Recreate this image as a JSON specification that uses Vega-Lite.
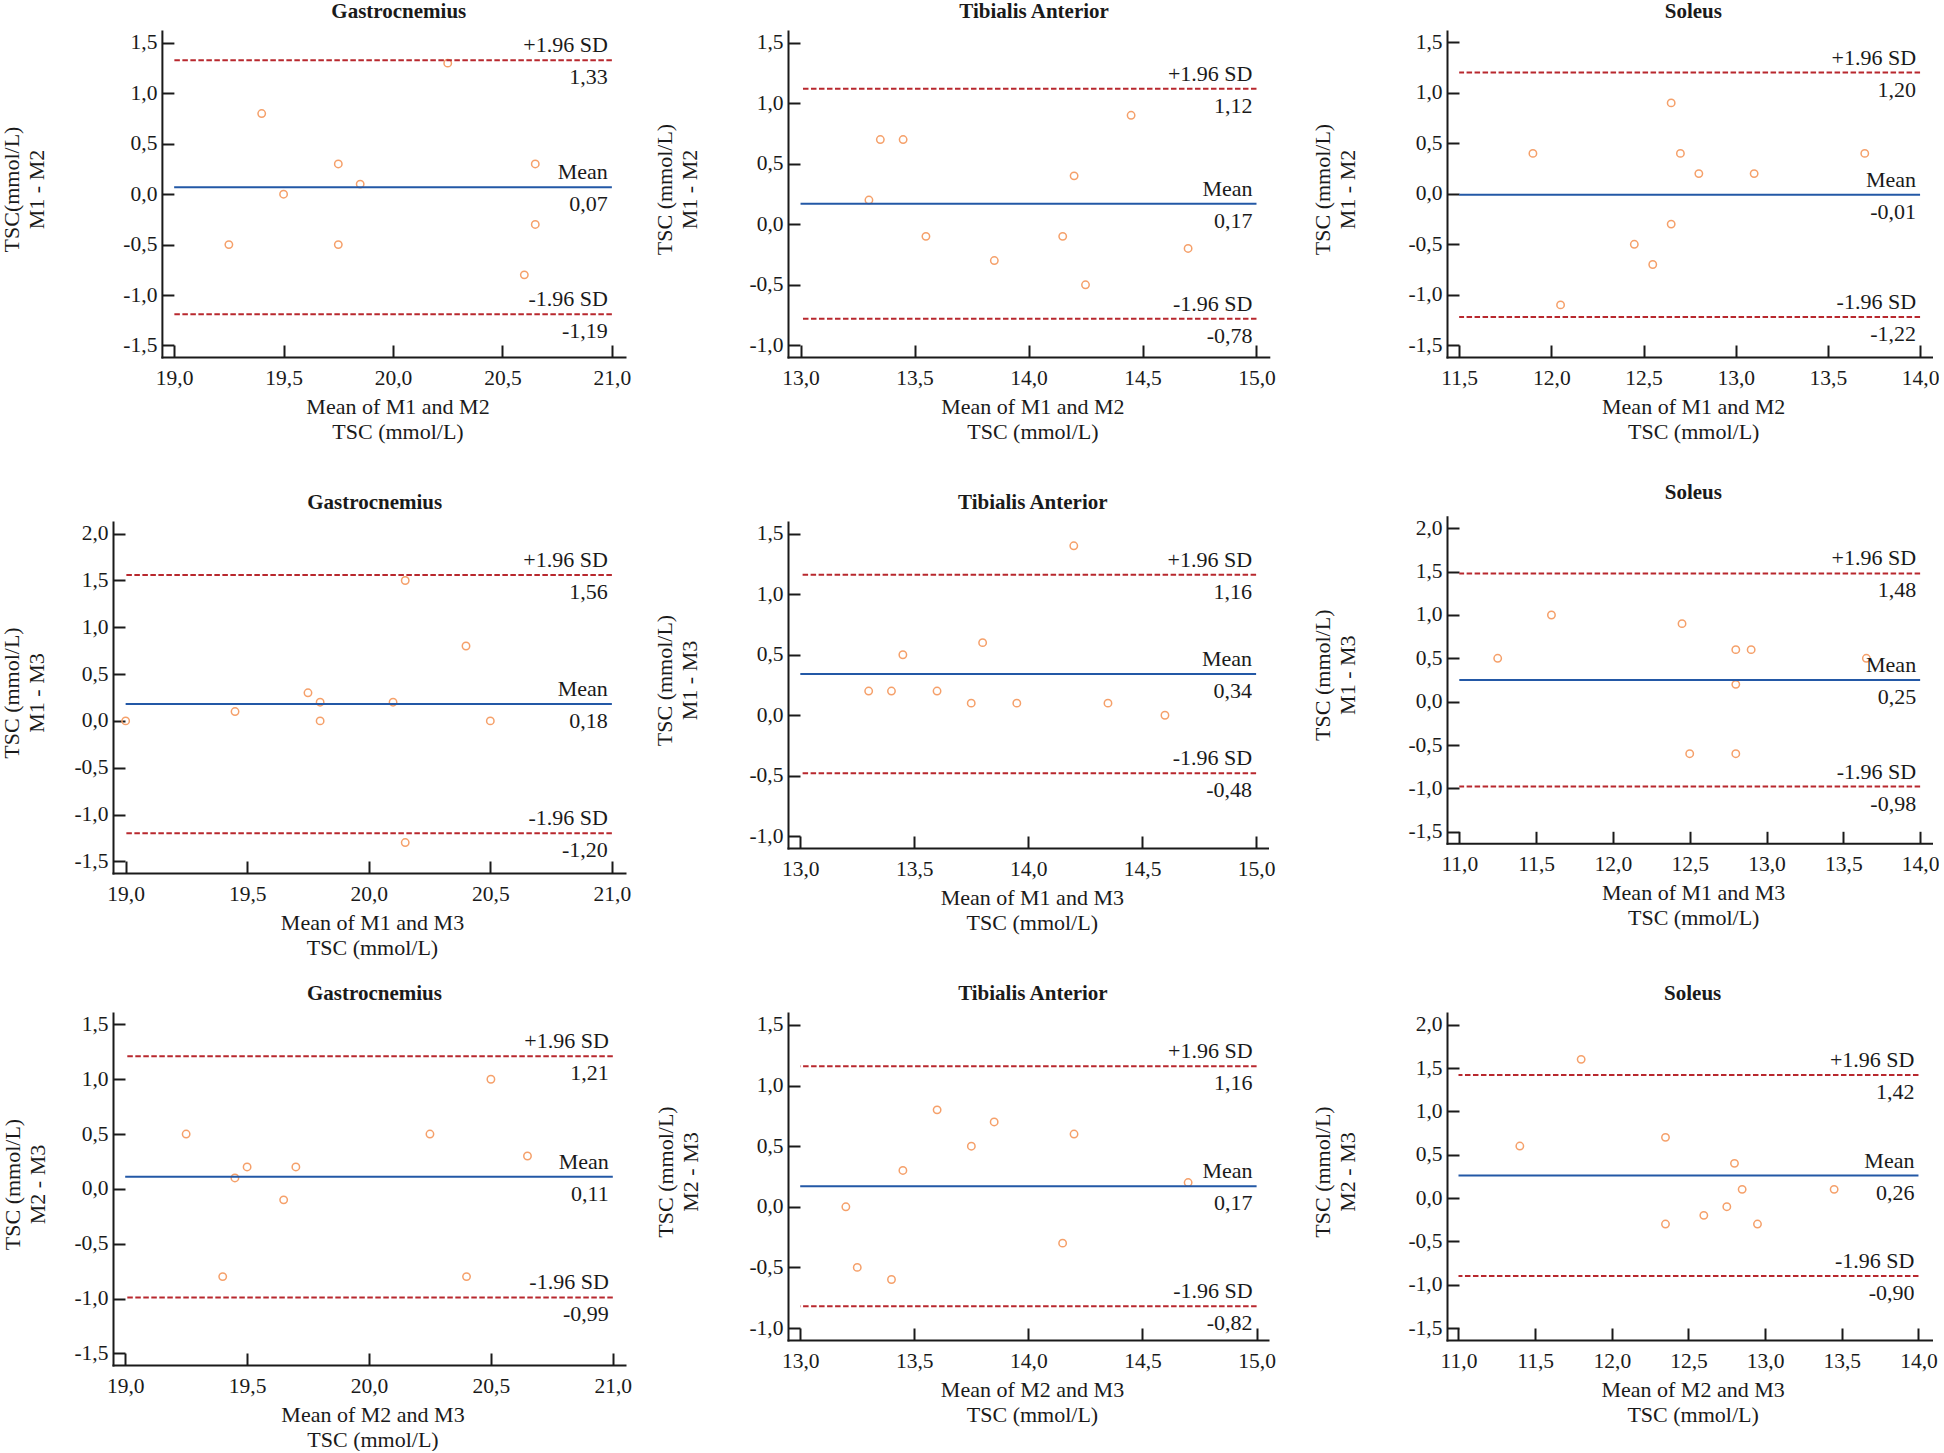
{
  "$schema": "https://vega.github.io/schema/vega-lite/v6.json",
  "padding": {"left": 0, "top": 1, "right": 0, "bottom": 0},
  "background": "white",
  "config": {
    "locale": {"number": {"decimal": ",", "thousands": ".", "grouping": [3], "currency": ["", ""], "minus": "-"}},
    "font": "Liberation Serif",
    "view": {"stroke": null},
    "axis": {"grid": false, "domainColor": "#1a1a1a", "domainWidth": 2, "domainCap": "square", "tickColor": "#1a1a1a", "tickWidth": 2, "tickSize": -12, "labelFont": "Liberation Serif", "labelFontSize": 21.5, "labelColor": "#1a1a1a", "titleFont": "Liberation Serif", "titleFontSize": 22, "titleFontWeight": "normal", "titleColor": "#1a1a1a", "titleLineHeight": 25, "labelFlush": false, "labelOverlap": false, "titleBaseline": "middle", "titleAlign": "center"},
    "axisX": {"labelPadding": 22, "titleAngle": 0},
    "axisY": {"labelPadding": 17, "titleAngle": -90},
    "title": {"font": "Liberation Serif", "fontSize": 21, "fontWeight": "bold", "color": "#1a1a1a", "frame": "group", "anchor": "middle", "baseline": "middle", "offset": 9},
    "text": {"font": "Liberation Serif", "fontSize": 22, "color": "#1a1a1a"}
  },
  "datasets": {
    "pts": [
      {"p": "P1", "mx": 19.25, "d": -0.5}, {"p": "P1", "mx": 19.4, "d": 0.8}, {"p": "P1", "mx": 19.5, "d": 0.0}, {"p": "P1", "mx": 19.75, "d": 0.3}, {"p": "P1", "mx": 19.75, "d": -0.5},
      {"p": "P1", "mx": 19.85, "d": 0.1}, {"p": "P1", "mx": 20.25, "d": 1.3}, {"p": "P1", "mx": 20.6, "d": -0.8}, {"p": "P1", "mx": 20.65, "d": 0.3}, {"p": "P1", "mx": 20.65, "d": -0.3},
      {"p": "P2", "mx": 13.3, "d": 0.2}, {"p": "P2", "mx": 13.35, "d": 0.7}, {"p": "P2", "mx": 13.45, "d": 0.7}, {"p": "P2", "mx": 13.55, "d": -0.1}, {"p": "P2", "mx": 13.85, "d": -0.3},
      {"p": "P2", "mx": 14.15, "d": -0.1}, {"p": "P2", "mx": 14.2, "d": 0.4}, {"p": "P2", "mx": 14.25, "d": -0.5}, {"p": "P2", "mx": 14.45, "d": 0.9}, {"p": "P2", "mx": 14.7, "d": -0.2},
      {"p": "P3", "mx": 11.9, "d": 0.4}, {"p": "P3", "mx": 12.05, "d": -1.1}, {"p": "P3", "mx": 12.45, "d": -0.5}, {"p": "P3", "mx": 12.55, "d": -0.7}, {"p": "P3", "mx": 12.65, "d": 0.9},
      {"p": "P3", "mx": 12.65, "d": -0.3}, {"p": "P3", "mx": 12.7, "d": 0.4}, {"p": "P3", "mx": 12.8, "d": 0.2}, {"p": "P3", "mx": 13.1, "d": 0.2}, {"p": "P3", "mx": 13.7, "d": 0.4},
      {"p": "P4", "mx": 19.0, "d": 0.0}, {"p": "P4", "mx": 19.45, "d": 0.1}, {"p": "P4", "mx": 19.75, "d": 0.3}, {"p": "P4", "mx": 19.8, "d": 0.2}, {"p": "P4", "mx": 19.8, "d": 0.0},
      {"p": "P4", "mx": 20.1, "d": 0.2}, {"p": "P4", "mx": 20.15, "d": 1.5}, {"p": "P4", "mx": 20.15, "d": -1.3}, {"p": "P4", "mx": 20.4, "d": 0.8}, {"p": "P4", "mx": 20.5, "d": 0.0},
      {"p": "P5", "mx": 13.3, "d": 0.2}, {"p": "P5", "mx": 13.4, "d": 0.2}, {"p": "P5", "mx": 13.45, "d": 0.5}, {"p": "P5", "mx": 13.6, "d": 0.2}, {"p": "P5", "mx": 13.75, "d": 0.1},
      {"p": "P5", "mx": 13.8, "d": 0.6}, {"p": "P5", "mx": 13.95, "d": 0.1}, {"p": "P5", "mx": 14.2, "d": 1.4}, {"p": "P5", "mx": 14.35, "d": 0.1}, {"p": "P5", "mx": 14.6, "d": 0.0},
      {"p": "P6", "mx": 11.25, "d": 0.5}, {"p": "P6", "mx": 11.6, "d": 1.0}, {"p": "P6", "mx": 12.45, "d": 0.9}, {"p": "P6", "mx": 12.5, "d": -0.6}, {"p": "P6", "mx": 12.8, "d": 0.6},
      {"p": "P6", "mx": 12.8, "d": 0.2}, {"p": "P6", "mx": 12.8, "d": -0.6}, {"p": "P6", "mx": 12.9, "d": 0.6}, {"p": "P6", "mx": 13.65, "d": 0.5},
      {"p": "P7", "mx": 19.25, "d": 0.5}, {"p": "P7", "mx": 19.4, "d": -0.8}, {"p": "P7", "mx": 19.45, "d": 0.1}, {"p": "P7", "mx": 19.5, "d": 0.2}, {"p": "P7", "mx": 19.65, "d": -0.1},
      {"p": "P7", "mx": 19.7, "d": 0.2}, {"p": "P7", "mx": 20.25, "d": 0.5}, {"p": "P7", "mx": 20.4, "d": -0.8}, {"p": "P7", "mx": 20.5, "d": 1.0}, {"p": "P7", "mx": 20.65, "d": 0.3},
      {"p": "P8", "mx": 13.2, "d": 0.0}, {"p": "P8", "mx": 13.25, "d": -0.5}, {"p": "P8", "mx": 13.4, "d": -0.6}, {"p": "P8", "mx": 13.45, "d": 0.3}, {"p": "P8", "mx": 13.6, "d": 0.8},
      {"p": "P8", "mx": 13.75, "d": 0.5}, {"p": "P8", "mx": 13.85, "d": 0.7}, {"p": "P8", "mx": 14.15, "d": -0.3}, {"p": "P8", "mx": 14.2, "d": 0.6}, {"p": "P8", "mx": 14.7, "d": 0.2},
      {"p": "P9", "mx": 11.4, "d": 0.6}, {"p": "P9", "mx": 11.8, "d": 1.6}, {"p": "P9", "mx": 12.35, "d": 0.7}, {"p": "P9", "mx": 12.35, "d": -0.3}, {"p": "P9", "mx": 12.6, "d": -0.2},
      {"p": "P9", "mx": 12.75, "d": -0.1}, {"p": "P9", "mx": 12.8, "d": 0.4}, {"p": "P9", "mx": 12.85, "d": 0.1}, {"p": "P9", "mx": 12.95, "d": -0.3}, {"p": "P9", "mx": 13.45, "d": 0.1}
    ],
    "lines": [
      {"p": "P1", "k": "upper", "lab": "+1.96 SD", "mx": 21, "mx0": 19, "d": 1.33},
      {"p": "P1", "k": "mean", "lab": "Mean", "mx": 21, "mx0": 19, "d": 0.07},
      {"p": "P1", "k": "lower", "lab": "-1.96 SD", "mx": 21, "mx0": 19, "d": -1.19},
      {"p": "P2", "k": "upper", "lab": "+1.96 SD", "mx": 15, "mx0": 13, "d": 1.12},
      {"p": "P2", "k": "mean", "lab": "Mean", "mx": 15, "mx0": 13, "d": 0.17},
      {"p": "P2", "k": "lower", "lab": "-1.96 SD", "mx": 15, "mx0": 13, "d": -0.78},
      {"p": "P3", "k": "upper", "lab": "+1.96 SD", "mx": 14, "mx0": 11.5, "d": 1.20},
      {"p": "P3", "k": "mean", "lab": "Mean", "mx": 14, "mx0": 11.5, "d": -0.01},
      {"p": "P3", "k": "lower", "lab": "-1.96 SD", "mx": 14, "mx0": 11.5, "d": -1.22},
      {"p": "P4", "k": "upper", "lab": "+1.96 SD", "mx": 21, "mx0": 19, "d": 1.56},
      {"p": "P4", "k": "mean", "lab": "Mean", "mx": 21, "mx0": 19, "d": 0.18},
      {"p": "P4", "k": "lower", "lab": "-1.96 SD", "mx": 21, "mx0": 19, "d": -1.20},
      {"p": "P5", "k": "upper", "lab": "+1.96 SD", "mx": 15, "mx0": 13, "d": 1.16},
      {"p": "P5", "k": "mean", "lab": "Mean", "mx": 15, "mx0": 13, "d": 0.34},
      {"p": "P5", "k": "lower", "lab": "-1.96 SD", "mx": 15, "mx0": 13, "d": -0.48},
      {"p": "P6", "k": "upper", "lab": "+1.96 SD", "mx": 14, "mx0": 11, "d": 1.48},
      {"p": "P6", "k": "mean", "lab": "Mean", "mx": 14, "mx0": 11, "d": 0.25},
      {"p": "P6", "k": "lower", "lab": "-1.96 SD", "mx": 14, "mx0": 11, "d": -0.98},
      {"p": "P7", "k": "upper", "lab": "+1.96 SD", "mx": 21, "mx0": 19, "d": 1.21},
      {"p": "P7", "k": "mean", "lab": "Mean", "mx": 21, "mx0": 19, "d": 0.11},
      {"p": "P7", "k": "lower", "lab": "-1.96 SD", "mx": 21, "mx0": 19, "d": -0.99},
      {"p": "P8", "k": "upper", "lab": "+1.96 SD", "mx": 15, "mx0": 13, "d": 1.16},
      {"p": "P8", "k": "mean", "lab": "Mean", "mx": 15, "mx0": 13, "d": 0.17},
      {"p": "P8", "k": "lower", "lab": "-1.96 SD", "mx": 15, "mx0": 13, "d": -0.82},
      {"p": "P9", "k": "upper", "lab": "+1.96 SD", "mx": 14, "mx0": 11, "d": 1.42},
      {"p": "P9", "k": "mean", "lab": "Mean", "mx": 14, "mx0": 11, "d": 0.26},
      {"p": "P9", "k": "lower", "lab": "-1.96 SD", "mx": 14, "mx0": 11, "d": -0.90}
    ]
  },
  "columns": 3,
  "spacing": {"row": 165, "column": 163},
  "bounds": "flush",
  "align": "each",
  "concat": [
    {
      "width": 512, "height": 326,
      "title": {"text": "Gastrocnemius", "dx": 29.8},
      "encoding": {
        "x": {"field": "mx", "type": "quantitative", "scale": {"domain": [18.944, 21.06], "range": [48.9, 512], "nice": false, "zero": false},
          "axis": {"values": [19, 19.5, 20, 20.5, 21], "format": ".1f", "title": ["Mean of M1 and M2", "TSC (mmol/L)"], "titleX": 284.5, "titleY": 49.5}},
        "y": {"field": "d", "type": "quantitative", "scale": {"domain": [-1.615, 1.619], "nice": false, "zero": false},
          "axis": {"values": [-1.5, -1, -0.5, 0, 0.5, 1, 1.5], "format": ".1f", "title": ["TSC(mmol/L)", "M1 - M2"], "titleX": -150, "titleY": 158, "offset": -48.9}}
      },
      "layer": [
        {"data": {"name": "pts"}, "transform": [{"filter": "datum.p == 'P1'"}], "mark": {"type": "point", "shape": "circle", "filled": false, "size": 55, "strokeWidth": 1.5, "color": "#f5a06a", "opacity": 1}},
        {"data": {"name": "lines"}, "transform": [{"filter": "datum.p == 'P1' && datum.k != 'mean'"}], "mark": {"type": "rule", "color": "#b8282e", "strokeWidth": 2, "strokeDash": [5.5, 2.5]}, "encoding": {"x2": {"field": "mx0"}}},
        {"data": {"name": "lines"}, "transform": [{"filter": "datum.p == 'P1' && datum.k == 'mean'"}], "mark": {"type": "rule", "color": "#2358a6", "strokeWidth": 2}, "encoding": {"x2": {"field": "mx0"}}},
        {"data": {"name": "lines"}, "transform": [{"filter": "datum.p == 'P1'"}], "mark": {"type": "text", "align": "right", "baseline": "middle", "dx": -4, "dy": -15}, "encoding": {"text": {"field": "lab"}}},
        {"data": {"name": "lines"}, "transform": [{"filter": "datum.p == 'P1'"}], "mark": {"type": "text", "align": "right", "baseline": "middle", "dx": -4, "dy": 17}, "encoding": {"text": {"field": "d", "type": "quantitative", "format": ".2f"}}}
      ]
    },
    {
      "width": 496, "height": 326,
      "title": {"text": "Tibialis Anterior", "dx": -1.9},
      "encoding": {
        "x": {"field": "mx", "type": "quantitative", "scale": {"domain": [12.945, 15.054], "range": [0, 480.8], "nice": false, "zero": false},
          "axis": {"values": [13, 13.5, 14, 14.5, 15], "format": ".1f", "title": ["Mean of M1 and M2", "TSC (mmol/L)"], "titleX": 244.4, "titleY": 49.5}},
        "y": {"field": "d", "type": "quantitative", "scale": {"domain": [-1.0967, 1.5967], "nice": false, "zero": false},
          "axis": {"values": [-1, -0.5, 0, 0.5, 1, 1.5], "format": ".1f", "title": ["TSC (mmol/L)", "M1 - M2"], "titleX": -123.2, "titleY": 158}}
      },
      "layer": [
        {"data": {"name": "pts"}, "transform": [{"filter": "datum.p == 'P2'"}], "mark": {"type": "point", "shape": "circle", "filled": false, "size": 55, "strokeWidth": 1.5, "color": "#f5a06a", "opacity": 1}},
        {"data": {"name": "lines"}, "transform": [{"filter": "datum.p == 'P2' && datum.k != 'mean'"}], "mark": {"type": "rule", "color": "#b8282e", "strokeWidth": 2, "strokeDash": [5.5, 2.5]}, "encoding": {"x2": {"field": "mx0"}}},
        {"data": {"name": "lines"}, "transform": [{"filter": "datum.p == 'P2' && datum.k == 'mean'"}], "mark": {"type": "rule", "color": "#2358a6", "strokeWidth": 2}, "encoding": {"x2": {"field": "mx0"}}},
        {"data": {"name": "lines"}, "transform": [{"filter": "datum.p == 'P2'"}], "mark": {"type": "text", "align": "right", "baseline": "middle", "dx": -4, "dy": -15}, "encoding": {"text": {"field": "lab"}}},
        {"data": {"name": "lines"}, "transform": [{"filter": "datum.p == 'P2'"}], "mark": {"type": "text", "align": "right", "baseline": "middle", "dx": -4, "dy": 17}, "encoding": {"text": {"field": "d", "type": "quantitative", "format": ".2f"}}}
      ]
    },
    {
      "width": 484.5, "height": 326,
      "title": {"text": "Soleus", "dx": 4.1},
      "encoding": {
        "x": {"field": "mx", "type": "quantitative", "scale": {"domain": [11.434, 14.062], "nice": false, "zero": false},
          "axis": {"values": [11.5, 12, 12.5, 13, 13.5, 14], "format": ".1f", "title": ["Mean of M1 and M2", "TSC (mmol/L)"], "titleX": 246.2, "titleY": 49.5}},
        "y": {"field": "d", "type": "quantitative", "scale": {"domain": [-1.616, 1.612], "nice": false, "zero": false},
          "axis": {"values": [-1.5, -1, -0.5, 0, 0.5, 1, 1.5], "format": ".1f", "title": ["TSC (mmol/L)", "M1 - M2"], "titleX": -125, "titleY": 158}}
      },
      "layer": [
        {"data": {"name": "pts"}, "transform": [{"filter": "datum.p == 'P3'"}], "mark": {"type": "point", "shape": "circle", "filled": false, "size": 55, "strokeWidth": 1.5, "color": "#f5a06a", "opacity": 1}},
        {"data": {"name": "lines"}, "transform": [{"filter": "datum.p == 'P3' && datum.k != 'mean'"}], "mark": {"type": "rule", "color": "#b8282e", "strokeWidth": 2, "strokeDash": [5.5, 2.5]}, "encoding": {"x2": {"field": "mx0"}}},
        {"data": {"name": "lines"}, "transform": [{"filter": "datum.p == 'P3' && datum.k == 'mean'"}], "mark": {"type": "rule", "color": "#2358a6", "strokeWidth": 2}, "encoding": {"x2": {"field": "mx0"}}},
        {"data": {"name": "lines"}, "transform": [{"filter": "datum.p == 'P3'"}], "mark": {"type": "text", "align": "right", "baseline": "middle", "dx": -4, "dy": -15}, "encoding": {"text": {"field": "lab"}}},
        {"data": {"name": "lines"}, "transform": [{"filter": "datum.p == 'P3'"}], "mark": {"type": "text", "align": "right", "baseline": "middle", "dx": -4, "dy": 17}, "encoding": {"text": {"field": "d", "type": "quantitative", "format": ".2f"}}}
      ]
    },
    {
      "width": 512, "height": 326,
      "title": {"text": "Gastrocnemius", "dx": 5.7},
      "encoding": {
        "x": {"field": "mx", "type": "quantitative", "scale": {"domain": [18.948, 21.054], "nice": false, "zero": false},
          "axis": {"values": [19, 19.5, 20, 20.5, 21], "format": ".1f", "title": ["Mean of M1 and M3", "TSC (mmol/L)"], "titleX": 259, "titleY": 49.5, "offset": 25}},
        "y": {"field": "d", "type": "quantitative", "scale": {"domain": [-1.625, 2.125], "range": [351, 0], "nice": false, "zero": false},
          "axis": {"values": [-1.5, -1, -0.5, 0, 0.5, 1, 1.5, 2], "format": ".1f", "title": ["TSC (mmol/L)", "M1 - M3"], "titleX": -101.1, "titleY": 170.5}}
      },
      "layer": [
        {"data": {"name": "pts"}, "transform": [{"filter": "datum.p == 'P4'"}], "mark": {"type": "point", "shape": "circle", "filled": false, "size": 55, "strokeWidth": 1.5, "color": "#f5a06a", "opacity": 1}},
        {"data": {"name": "lines"}, "transform": [{"filter": "datum.p == 'P4' && datum.k != 'mean'"}], "mark": {"type": "rule", "color": "#b8282e", "strokeWidth": 2, "strokeDash": [5.5, 2.5]}, "encoding": {"x2": {"field": "mx0"}}},
        {"data": {"name": "lines"}, "transform": [{"filter": "datum.p == 'P4' && datum.k == 'mean'"}], "mark": {"type": "rule", "color": "#2358a6", "strokeWidth": 2}, "encoding": {"x2": {"field": "mx0"}}},
        {"data": {"name": "lines"}, "transform": [{"filter": "datum.p == 'P4'"}], "mark": {"type": "text", "align": "right", "baseline": "middle", "dx": -4, "dy": -15}, "encoding": {"text": {"field": "lab"}}},
        {"data": {"name": "lines"}, "transform": [{"filter": "datum.p == 'P4'"}], "mark": {"type": "text", "align": "right", "baseline": "middle", "dx": -4, "dy": 17}, "encoding": {"text": {"field": "d", "type": "quantitative", "format": ".2f"}}}
      ]
    },
    {
      "width": 496, "height": 326,
      "title": {"text": "Tibialis Anterior", "dx": -3.2},
      "encoding": {
        "x": {"field": "mx", "type": "quantitative", "scale": {"domain": [12.946, 15.05], "range": [0, 479.5], "nice": false, "zero": false},
          "axis": {"values": [13, 13.5, 14, 14.5, 15], "format": ".1f", "title": ["Mean of M1 and M3", "TSC (mmol/L)"], "titleX": 243.8, "titleY": 49.5}},
        "y": {"field": "d", "type": "quantitative", "scale": {"domain": [-1.0965, 1.5965], "nice": false, "zero": false},
          "axis": {"values": [-1, -0.5, 0, 0.5, 1, 1.5], "format": ".1f", "title": ["TSC (mmol/L)", "M1 - M3"], "titleX": -123.7, "titleY": 158}}
      },
      "layer": [
        {"data": {"name": "pts"}, "transform": [{"filter": "datum.p == 'P5'"}], "mark": {"type": "point", "shape": "circle", "filled": false, "size": 55, "strokeWidth": 1.5, "color": "#f5a06a", "opacity": 1}},
        {"data": {"name": "lines"}, "transform": [{"filter": "datum.p == 'P5' && datum.k != 'mean'"}], "mark": {"type": "rule", "color": "#b8282e", "strokeWidth": 2, "strokeDash": [5.5, 2.5]}, "encoding": {"x2": {"field": "mx0"}}},
        {"data": {"name": "lines"}, "transform": [{"filter": "datum.p == 'P5' && datum.k == 'mean'"}], "mark": {"type": "rule", "color": "#2358a6", "strokeWidth": 2}, "encoding": {"x2": {"field": "mx0"}}},
        {"data": {"name": "lines"}, "transform": [{"filter": "datum.p == 'P5'"}], "mark": {"type": "text", "align": "right", "baseline": "middle", "dx": -4, "dy": -15}, "encoding": {"text": {"field": "lab"}}},
        {"data": {"name": "lines"}, "transform": [{"filter": "datum.p == 'P5'"}], "mark": {"type": "text", "align": "right", "baseline": "middle", "dx": -4, "dy": 17}, "encoding": {"text": {"field": "d", "type": "quantitative", "format": ".2f"}}}
      ]
    },
    {
      "width": 484.5, "height": 326,
      "title": {"text": "Soleus", "dx": 4.1, "dy": -5.3},
      "encoding": {
        "x": {"field": "mx", "type": "quantitative", "scale": {"domain": [10.92, 14.074], "nice": false, "zero": false},
          "axis": {"values": [11, 11.5, 12, 12.5, 13, 13.5, 14], "format": ".1f", "title": ["Mean of M1 and M3", "TSC (mmol/L)"], "titleX": 246.2, "titleY": 49.5, "offset": -4.7}},
        "y": {"field": "d", "type": "quantitative", "scale": {"domain": [-1.634, 2.134], "range": [321.3, -5.3], "nice": false, "zero": false},
          "axis": {"values": [-1.5, -1, -0.5, 0, 0.5, 1, 1.5, 2], "format": ".1f", "title": ["TSC (mmol/L)", "M1 - M3"], "titleX": -125, "titleY": 152.7}}
      },
      "layer": [
        {"data": {"name": "pts"}, "transform": [{"filter": "datum.p == 'P6'"}], "mark": {"type": "point", "shape": "circle", "filled": false, "size": 55, "strokeWidth": 1.5, "color": "#f5a06a", "opacity": 1}},
        {"data": {"name": "lines"}, "transform": [{"filter": "datum.p == 'P6' && datum.k != 'mean'"}], "mark": {"type": "rule", "color": "#b8282e", "strokeWidth": 2, "strokeDash": [5.5, 2.5]}, "encoding": {"x2": {"field": "mx0"}}},
        {"data": {"name": "lines"}, "transform": [{"filter": "datum.p == 'P6' && datum.k == 'mean'"}], "mark": {"type": "rule", "color": "#2358a6", "strokeWidth": 2}, "encoding": {"x2": {"field": "mx0"}}},
        {"data": {"name": "lines"}, "transform": [{"filter": "datum.p == 'P6'"}], "mark": {"type": "text", "align": "right", "baseline": "middle", "dx": -4, "dy": -15}, "encoding": {"text": {"field": "lab"}}},
        {"data": {"name": "lines"}, "transform": [{"filter": "datum.p == 'P6'"}], "mark": {"type": "text", "align": "right", "baseline": "middle", "dx": -4, "dy": 17}, "encoding": {"text": {"field": "d", "type": "quantitative", "format": ".2f"}}}
      ]
    },
    {
      "width": 512, "height": 352,
      "title": {"text": "Gastrocnemius", "dx": 5.5},
      "encoding": {
        "x": {"field": "mx", "type": "quantitative", "scale": {"domain": [18.95, 21.05], "nice": false, "zero": false},
          "axis": {"values": [19, 19.5, 20, 20.5, 21], "format": ".1f", "title": ["Mean of M2 and M3", "TSC (mmol/L)"], "titleX": 259.5, "titleY": 49.5}},
        "y": {"field": "d", "type": "quantitative", "scale": {"domain": [-1.606, 1.604], "nice": false, "zero": false},
          "axis": {"values": [-1.5, -1, -0.5, 0, 0.5, 1, 1.5], "format": ".1f", "title": ["TSC (mmol/L)", "M2 - M3"], "titleX": -100.5, "titleY": 171}}
      },
      "layer": [
        {"data": {"name": "pts"}, "transform": [{"filter": "datum.p == 'P7'"}], "mark": {"type": "point", "shape": "circle", "filled": false, "size": 55, "strokeWidth": 1.5, "color": "#f5a06a", "opacity": 1}},
        {"data": {"name": "lines"}, "transform": [{"filter": "datum.p == 'P7' && datum.k != 'mean'"}], "mark": {"type": "rule", "color": "#b8282e", "strokeWidth": 2, "strokeDash": [5.5, 2.5]}, "encoding": {"x2": {"field": "mx0"}}},
        {"data": {"name": "lines"}, "transform": [{"filter": "datum.p == 'P7' && datum.k == 'mean'"}], "mark": {"type": "rule", "color": "#2358a6", "strokeWidth": 2}, "encoding": {"x2": {"field": "mx0"}}},
        {"data": {"name": "lines"}, "transform": [{"filter": "datum.p == 'P7'"}], "mark": {"type": "text", "align": "right", "baseline": "middle", "dx": -4, "dy": -15}, "encoding": {"text": {"field": "lab"}}},
        {"data": {"name": "lines"}, "transform": [{"filter": "datum.p == 'P7'"}], "mark": {"type": "text", "align": "right", "baseline": "middle", "dx": -4, "dy": 17}, "encoding": {"text": {"field": "d", "type": "quantitative", "format": ".2f"}}}
      ]
    },
    {
      "width": 496, "height": 327,
      "title": {"text": "Tibialis Anterior", "dx": -3.1},
      "encoding": {
        "x": {"field": "mx", "type": "quantitative", "scale": {"domain": [12.9465, 15.05], "range": [0, 480], "nice": false, "zero": false},
          "axis": {"values": [13, 13.5, 14, 14.5, 15], "format": ".1f", "title": ["Mean of M2 and M3", "TSC (mmol/L)"], "titleX": 244, "titleY": 49.5}},
        "y": {"field": "d", "type": "quantitative", "scale": {"domain": [-1.099, 1.599], "nice": false, "zero": false},
          "axis": {"values": [-1, -0.5, 0, 0.5, 1, 1.5], "format": ".1f", "title": ["TSC (mmol/L)", "M2 - M3"], "titleX": -122.9, "titleY": 158.5}}
      },
      "layer": [
        {"data": {"name": "pts"}, "transform": [{"filter": "datum.p == 'P8'"}], "mark": {"type": "point", "shape": "circle", "filled": false, "size": 55, "strokeWidth": 1.5, "color": "#f5a06a", "opacity": 1}},
        {"data": {"name": "lines"}, "transform": [{"filter": "datum.p == 'P8' && datum.k != 'mean'"}], "mark": {"type": "rule", "color": "#b8282e", "strokeWidth": 2, "strokeDash": [5.5, 2.5]}, "encoding": {"x2": {"field": "mx0"}}},
        {"data": {"name": "lines"}, "transform": [{"filter": "datum.p == 'P8' && datum.k == 'mean'"}], "mark": {"type": "rule", "color": "#2358a6", "strokeWidth": 2}, "encoding": {"x2": {"field": "mx0"}}},
        {"data": {"name": "lines"}, "transform": [{"filter": "datum.p == 'P8'"}], "mark": {"type": "text", "align": "right", "baseline": "middle", "dx": -4, "dy": -15}, "encoding": {"text": {"field": "lab"}}},
        {"data": {"name": "lines"}, "transform": [{"filter": "datum.p == 'P8'"}], "mark": {"type": "text", "align": "right", "baseline": "middle", "dx": -4, "dy": 17}, "encoding": {"text": {"field": "d", "type": "quantitative", "format": ".2f"}}}
      ]
    },
    {
      "width": 484.5, "height": 327,
      "title": {"text": "Soleus", "dx": 3.4},
      "encoding": {
        "x": {"field": "mx", "type": "quantitative", "scale": {"domain": [10.925, 14.085], "nice": false, "zero": false},
          "axis": {"values": [11, 11.5, 12, 12.5, 13, 13.5, 14], "format": ".1f", "title": ["Mean of M2 and M3", "TSC (mmol/L)"], "titleX": 245.6, "titleY": 49.5}},
        "y": {"field": "d", "type": "quantitative", "scale": {"domain": [-1.638, 2.135], "nice": false, "zero": false},
          "axis": {"values": [-1.5, -1, -0.5, 0, 0.5, 1, 1.5, 2], "format": ".1f", "title": ["TSC (mmol/L)", "M2 - M3"], "titleX": -124.1, "titleY": 158.5}}
      },
      "layer": [
        {"data": {"name": "pts"}, "transform": [{"filter": "datum.p == 'P9'"}], "mark": {"type": "point", "shape": "circle", "filled": false, "size": 55, "strokeWidth": 1.5, "color": "#f5a06a", "opacity": 1}},
        {"data": {"name": "lines"}, "transform": [{"filter": "datum.p == 'P9' && datum.k != 'mean'"}], "mark": {"type": "rule", "color": "#b8282e", "strokeWidth": 2, "strokeDash": [5.5, 2.5]}, "encoding": {"x2": {"field": "mx0"}}},
        {"data": {"name": "lines"}, "transform": [{"filter": "datum.p == 'P9' && datum.k == 'mean'"}], "mark": {"type": "rule", "color": "#2358a6", "strokeWidth": 2}, "encoding": {"x2": {"field": "mx0"}}},
        {"data": {"name": "lines"}, "transform": [{"filter": "datum.p == 'P9'"}], "mark": {"type": "text", "align": "right", "baseline": "middle", "dx": -4, "dy": -15}, "encoding": {"text": {"field": "lab"}}},
        {"data": {"name": "lines"}, "transform": [{"filter": "datum.p == 'P9'"}], "mark": {"type": "text", "align": "right", "baseline": "middle", "dx": -4, "dy": 17}, "encoding": {"text": {"field": "d", "type": "quantitative", "format": ".2f"}}}
      ]
    }
  ]
}
